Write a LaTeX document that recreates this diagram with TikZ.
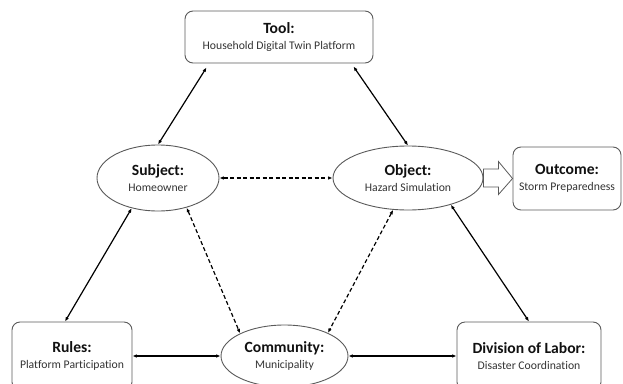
\documentclass[tikz,border=0pt]{standalone}
\usepackage{fontspec}
\setmainfont[Ligatures=NoCommon]{Carlito}
\usetikzlibrary{shapes.geometric,arrows.meta,calc}
\definecolor{boxgray}{HTML}{5A5A5A}
\definecolor{txt}{HTML}{111111}
\definecolor{subtxt}{HTML}{333333}
\newcommand\ttl[1]{{\bfseries\fontsize{15.6}{16.5}\selectfont #1}}
\newcommand\sbt[1]{{\color{subtxt}\fontsize{11.7}{16.5}\selectfont #1}}
\tikzset{
  box/.style={draw=boxgray, line width=0.9pt, rounded corners=8pt, fill=white,
    inner sep=0pt, align=center, text=txt, font=\fontsize{11.7}{16.5}\selectfont},
  ell/.style={ellipse, draw=boxgray, line width=0.9pt, fill=white,
    inner sep=0pt, align=center, text=txt, font=\fontsize{11.7}{16.5}\selectfont},
  link/.style={line width=1.2pt, draw=black,
    {Latex[length=4.5pt,width=3.6pt]}-{Latex[length=4.5pt,width=3.6pt]}},
  dlink/.style={link, dash pattern=on 4pt off 2.5pt},
  hollow/.style={draw=boxgray, line width=0.8pt, fill=white, line join=miter}
}
\begin{document}
\begin{tikzpicture}[x=1pt,y=-1pt]
\useasboundingbox (0,0) rectangle (623,383);
% nodes
\node[box, minimum width=188pt, minimum height=52pt] (tool) at (279,37)
  {\ttl{Tool:}\\\sbt{Household Digital Twin Platform}};
\node[ell, minimum width=122pt, minimum height=66pt] (subj) at (158,178)
  {\ttl{Subject:}\\\sbt{Homeowner}};
\node[ell, minimum width=150pt, minimum height=64pt] (obj) at (408,178)
  {\ttl{Object:}\\\sbt{Hazard Simulation}};
\node[box, minimum width=108pt, minimum height=63pt] (outc) at (567,178.5)
  {\ttl{Outcome:}\\\sbt{Storm Preparedness}};
\node[box, minimum width=120pt, minimum height=68pt] (rules) at (72,356)
  {\ttl{Rules:}\\\sbt{Platform Participation}};
\node[ell, minimum width=127pt, minimum height=62pt] (comm) at (284.5,356)
  {\ttl{Community:}\\\sbt{Municipality}};
\node[box, minimum width=144pt, minimum height=68pt] (div) at (529,356)
  {\ttl{Division of Labor:}\\\sbt{Disaster Coordination}};
% connectors
\draw[link] (subj.north) -- ([xshift=22pt,yshift=-4pt]tool.south west);
\draw[link] ([xshift=-20pt,yshift=-3pt]tool.south east) -- (obj.north);
\draw[dlink] (subj.east) -- (obj.west);
\draw[link] (subj.229) -- ([xshift=-7pt]rules.north);
\draw[dlink] (subj.314) -- (comm.153);
\draw[dlink] (obj.245) -- (comm.28);
\draw[link] (obj.328) -- (div.north);
\draw[link] (rules.east) -- (comm.west);
\draw[link] (comm.east) -- (div.west);
% hollow block arrow to outcome
\draw[hollow] ($(obj.east)+(0,-9)$) -- ($(obj.east)+(15,-9)$) -- ($(obj.east)+(15,-16.5)$)
  -- (outc.west) -- ($(obj.east)+(15,16.5)$) -- ($(obj.east)+(15,9)$)
  -- ($(obj.east)+(0,9)$) -- cycle;
\end{tikzpicture}
\end{document}
